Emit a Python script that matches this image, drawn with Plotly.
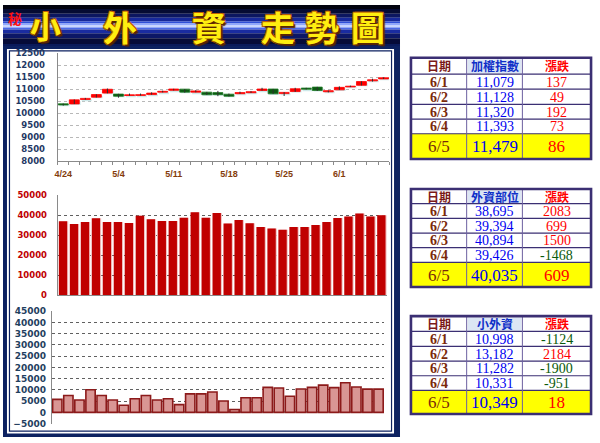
import plotly.graph_objects as go

W, H = 600, 443

# ---------------- data ----------------
dates = ["4/24", "4/27", "4/28", "4/29", "4/30", "5/4", "5/5", "5/6", "5/7", "5/8",
         "5/11", "5/12", "5/13", "5/14", "5/15", "5/18", "5/19", "5/20", "5/21", "5/22",
         "5/25", "5/26", "5/27", "5/28", "5/29", "6/1", "6/2", "6/3", "6/4", "6/5"]

twii_open = [10395, 10390, 10575, 10670, 10840, 10800, 10740, 10745, 10780, 10880,
             10955, 11005, 10880, 10880, 10860, 10795, 10815, 10855, 10950, 11010,
             10820, 10905, 11050, 11090, 10895, 10975, 11095, 11165, 11350, 11430]
twii_high = [10405, 10575, 10640, 10790, 11030, 10810, 10820, 10820, 10870, 10940,
             11020, 11010, 10960, 10890, 10930, 10820, 10900, 10920, 11060, 11015,
             10880, 11060, 11060, 11100, 10945, 11120, 11150, 11330, 11440, 11490]
twii_low = [10320, 10385, 10570, 10660, 10830, 10650, 10735, 10740, 10775, 10870,
            10950, 10860, 10875, 10765, 10712, 10700, 10810, 10850, 10945, 10805,
            10720, 10890, 10995, 10930, 10870, 10970, 11090, 11160, 11320, 11425]
twii_close = [10347, 10560, 10620, 10780, 11000, 10710, 10770, 10775, 10840, 10915,
              11010, 10880, 10930, 10770, 10775, 10710, 10860, 10900, 11010, 10810,
              10870, 11020, 11000, 10950, 10942, 11079, 11128, 11320, 11393, 11479]

fut_pos = [37000, 35700, 36700, 38500, 36700, 36700, 36200, 39800, 38000, 37200,
           37200, 38800, 41500, 38800, 41200, 35900, 37700, 36000, 34200, 33400,
           32800, 34200, 34200, 35200, 36612, 38695, 39394, 40894, 39426, 40035]

retail_pos = [5770, 7500, 5480, 10100, 7500, 5480, 3170, 6060, 7500, 5480,
              6060, 3460, 8220, 8220, 9090, 5050, 1300, 6490, 6490, 11110,
              10820, 7210, 10390, 11110, 12122, 10998, 13182, 11282, 10331, 10349]

label_days = ["4/24", "5/4", "5/11", "5/18", "5/25", "6/1"]

table_titles = ["加權指數", "外資部位", "小外資"]
header_date = "日期"
header_chg = "漲跌"
recent_n = 5

xs = list(range(len(dates)))

# ---------------- helpers ----------------
shapes, annotations = [], []


def px(x):
    return x / W


def py(y):
    return 1 - y / H


def rect(x0, y0, x1, y1, fill=None, line=None, lw=0, layer="below"):
    shapes.append(dict(type="rect", xref="paper", yref="paper",
                       x0=px(x0), x1=px(x1), y0=py(y1), y1=py(y0),
                       fillcolor=fill or "rgba(0,0,0,0)",
                       line=dict(color=line or "rgba(0,0,0,0)", width=lw),
                       layer=layer))


def seg(x0, y0, x1, y1, color, lw, layer="below"):
    shapes.append(dict(type="line", xref="paper", yref="paper",
                       x0=px(x0), x1=px(x1), y0=py(y0), y1=py(y1),
                       line=dict(color=color, width=lw), layer=layer))


def label(x, y, s, size, color, family, bold=False, anchor="center", shadow=None):
    f = dict(size=size, color=color, family=family)
    if bold:
        f["weight"] = "bold"
    if shadow:
        f["shadow"] = shadow
    annotations.append(dict(xref="paper", yref="paper", x=px(x), y=py(y), text=s,
                            showarrow=False, xanchor=anchor, yanchor="middle", font=f))


# ---------------- header banner ----------------
bands = [(0, 4, "#02030f"), (4, 9, "#060b33"), (9, 13, "#0c1660"), (13, 17, "#17289a"),
         (17, 19, "#2f4fd8"), (19, 21, "#8fa8ff"), (21, 23, "#c9d6ff"), (23, 25, "#4c6ae8"),
         (25, 29, "#1a2ca0"), (29, 34, "#0c1766"), (34, 40, "#060b38"), (40, 43, "#0a1a5a")]
for y0, y1, c in bands:
    rect(0, y0, 399, y1, fill=c)

# (char, centre x, centre y, size)
title_chars = [("小", 43, 20, 31), ("外", 118, 21.5, 34), ("資", 207, 21.5, 34),
               ("走", 276, 21.5, 34), ("勢", 321, 21.5, 34), ("圖", 367, 21.5, 34)]
outline = ("2px 2px 1px #5a2600, -1px -1px 0 #c06000, 1px -1px 0 #c06000, "
           "-1px 1px 0 #c06000, 1px 1px 0 #c06000")
for ch, cx, cy, sz in title_chars:
    label(cx, cy, ch, sz, "#ffee10", "Noto Sans CJK TC", bold=True, shadow=outline)
label(12, 13, "秘", 14, "#ff1010", "Noto Sans CJK TC", bold=True)

# ---------------- chart panel frame ----------------
rect(0, 42, 399, 442, fill="#0c2160")
rect(4, 45, 393, 438.5, fill="#ffffff")
rect(6.5, 47, 390.5, 436, line="#0c2160", lw=1.2)

# ---------------- tables ----------------
xL, c1, c2, xR = 410, 466, 522, 591
border_col = "#3b2f73"


def draw_table(bounds, title, values):
    top, hb = bounds[0], bounds[1]
    rows = bounds[1:]
    bot = bounds[-1]
    rect(xL, top, xR, bot, fill="#ffffff")
    rect(c1 + 1, top + 1.5, c2 - 1, hb - 0.5, fill="#dce6f4")
    rect(xL, rows[-2], xR, bot, fill="#ffff00")
    for yy in rows[:-1]:
        seg(xL, yy, xR, yy, border_col, 1.2)
    seg(c1, top, c1, bot, "#6b5fa0", 1)
    seg(c2, top, c2, bot, "#6b5fa0", 1)
    rect(xL, top, xR, bot, line=border_col, lw=2.6)

    hy = (top + hb) / 2
    label((xL + c1) / 2, hy, header_date, 12, "#7a1a1a", "Noto Sans CJK TC", bold=True)
    label((c1 + c2) / 2, hy, title, 12, "#1030c8", "Noto Sans CJK TC", bold=True)
    label((c2 + xR) / 2, hy, header_chg, 12, "#ff0000", "Noto Sans CJK TC", bold=True)

    recent = values[-(recent_n + 1):]
    for k in range(recent_n):
        d = dates[-recent_n + k]
        v = recent[k + 1]
        chg = recent[k + 1] - recent[k]
        yc = (rows[k] + rows[k + 1]) / 2
        last = k == recent_n - 1
        size = 17 if last else 14
        ccol = "#ff0000" if chg > 0 else "#0a5a0a"
        label((xL + c1) / 2, yc + 0.5, d, size, "#7a2a0a", "Liberation Serif", bold=not last)
        label((c1 + c2) / 2, yc + 0.5, f"{v:,}", size, "#0000f0", "Liberation Serif")
        label((c2 + xR) / 2, yc + 0.5, str(chg), size, ccol, "Liberation Serif")


draw_table([54, 70.7, 86, 101.7, 116.7, 131.7, 157.5], table_titles[0], twii_close)
draw_table([188.3, 203.3, 218.3, 233.3, 248.3, 263.3, 288.5], table_titles[1], fut_pos)
draw_table([318.3, 334, 349.3, 364.3, 379.3, 394.3, 418.5], table_titles[2], retail_pos)

# ---------------- traces ----------------
fig = go.Figure()

up_c, dn_fill, dn_line = "#ff0000", "#0b5a12", "#1e7a24"
body_lo = [min(o, c) for o, c in zip(twii_open, twii_close)]
body_h = [max(abs(c - o), 20) for o, c in zip(twii_open, twii_close)]
body_col = [up_c if c >= o else dn_fill for o, c in zip(twii_open, twii_close)]
body_line = [up_c if c >= o else dn_line for o, c in zip(twii_open, twii_close)]

# soft shadow beneath candle bodies
fig.add_trace(go.Bar(x=xs, y=body_h, base=[b - 45 for b in body_lo], width=0.9, offset=-0.33,
                     marker=dict(color="#cfe9ea", line=dict(width=0)),
                     xaxis="x", yaxis="y", hoverinfo="skip", showlegend=False))
wx, wy = [], []
for i in xs:
    wx += [i, i, None]
    wy += [twii_low[i], twii_high[i], None]
fig.add_trace(go.Scatter(x=wx, y=wy, mode="lines", line=dict(color="#303030", width=1),
                         xaxis="x", yaxis="y", hoverinfo="skip", showlegend=False))
fig.add_trace(go.Bar(x=xs, y=body_h, base=body_lo, width=0.9, offset=-0.45,
                     marker=dict(color=body_col, line=dict(color=body_line, width=0.8)),
                     xaxis="x", yaxis="y", showlegend=False,
                     customdata=list(zip(twii_open, twii_high, twii_low, twii_close)),
                     hovertemplate="O %{customdata[0]}<br>H %{customdata[1]}<br>"
                                   "L %{customdata[2]}<br>C %{customdata[3]}<extra></extra>"))

# foreign futures position
fig.add_trace(go.Bar(x=xs, y=fut_pos, width=0.76, offset=-0.30,
                     marker=dict(color="#f2c4c4", line=dict(width=0)),
                     xaxis="x2", yaxis="y2", hoverinfo="skip", showlegend=False))
fig.add_trace(go.Bar(x=xs, y=fut_pos, width=0.76, offset=-0.40,
                     marker=dict(color="#c00000", line=dict(width=0)),
                     xaxis="x2", yaxis="y2", showlegend=False))

# retail futures position
fig.add_trace(go.Bar(x=xs, y=retail_pos, width=0.84, offset=-0.42,
                     marker=dict(color="#d99694", line=dict(color="#8c1a1a", width=1.6)),
                     xaxis="x3", yaxis="y3", showlegend=False))

tick_idx = [dates.index(d) for d in label_days]

axis_common = dict(range=[-0.5, len(dates) - 0.5], fixedrange=True, zeroline=False, showgrid=False)

fig.update_layout(
    width=W, height=H, margin=dict(l=0, r=0, t=0, b=0),
    paper_bgcolor="#ffffff", plot_bgcolor="rgba(0,0,0,0)",
    barmode="overlay", showlegend=False,
    shapes=shapes, annotations=annotations,
    xaxis=dict(domain=[px(55), px(388)], anchor="y", **axis_common,
               showline=True, linecolor="#8a8a8a", linewidth=1,
               tickmode="array", tickvals=tick_idx, ticktext=label_days, ticks="",
               tickfont=dict(family="Liberation Sans", size=9, color="#843c0c", weight="bold"),
               ticklabelstandoff=4,
               minor=dict(ticks="outside", ticklen=3, tickcolor="#8a8a8a", tick0=-0.5, dtick=1)),
    yaxis=dict(domain=[py(160), py(49.3)], anchor="x", range=[8000, 12500], dtick=500,
               tickformat="d",
               fixedrange=True, showgrid=True, gridcolor="#b8b8b8", griddash="dot", gridwidth=1,
               zeroline=False, showline=True, linecolor="#8a8a8a", ticks="",
               tickfont=dict(family="DejaVu Sans", size=8.5, color="#1f3864", weight="bold"),
               ticklabelstandoff=10),
    xaxis2=dict(domain=[px(55), px(386)], anchor="y2", **axis_common,
                showline=True, linecolor="#8a8a8a", showticklabels=False, ticks=""),
    yaxis2=dict(domain=[py(297), py(194.7)], anchor="x2", range=[0, 50000], dtick=10000,
                tickformat="d",
                fixedrange=True, showgrid=True, gridcolor="#606060", griddash="dot",
                zeroline=False, showline=True, linecolor="#8a8a8a", ticks="",
                tickfont=dict(family="DejaVu Sans", size=8.5, color="#c00000", weight="bold"),
                ticklabelstandoff=8),
    xaxis3=dict(domain=[px(49), px(383)], anchor="y3", **axis_common,
                showline=False, showticklabels=False, ticks=""),
    yaxis3=dict(domain=[py(428.3), py(313.3)], anchor="x3", range=[-5000, 45000], dtick=5000,
                tickformat="d",
                fixedrange=True, showgrid=True, gridcolor="#606060", griddash="dot",
                zeroline=True, zerolinecolor="#8a8a8a", zerolinewidth=1.5,
                showline=True, linecolor="#8a8a8a", ticks="",
                tickfont=dict(family="DejaVu Sans", size=9, color="#1f4060", weight="bold"),
                ticklabelstandoff=3),
)

fig.write_html("out.html")
